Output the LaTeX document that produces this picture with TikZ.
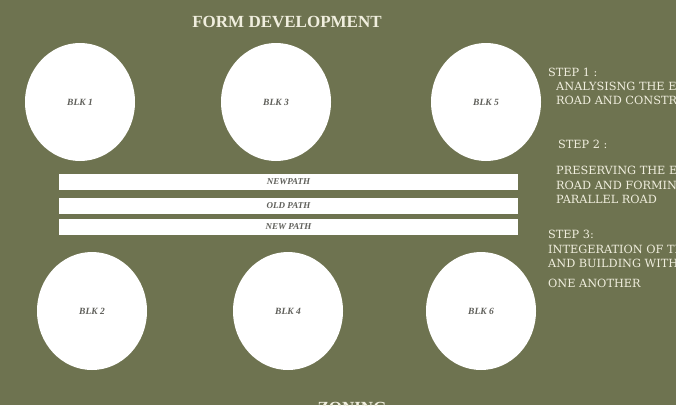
\documentclass[tikz,border=0pt]{standalone}
\usepackage{fontspec}
\setmainfont{Liberation Serif}
\newfontfamily\stepfont{DejaVu Serif}
\usetikzlibrary{positioning,shapes.geometric}
\definecolor{olive}{RGB}{110,115,80}
\definecolor{cream}{RGB}{240,238,222}
\definecolor{labelgrey}{RGB}{95,95,90}
\tikzset{
  blk/.style={ellipse,fill=white,draw=none,inner sep=0pt,
    minimum width=110pt,minimum height=118pt,
    font=\fontsize{9.5}{10}\selectfont\bfseries\itshape,text=labelgrey},
  pathbar/.style={rectangle,fill=white,draw=none,inner sep=0pt,
    minimum width=459pt,minimum height=16pt,
    font=\fontsize{9}{10}\selectfont\bfseries\itshape,text=labelgrey},
  steptext/.style={anchor=west,inner sep=0pt,text=cream,
    font=\stepfont\fontsize{11.3}{13}\selectfont}
}
\begin{document}
\begin{tikzpicture}[x=1pt,y=-1pt]
  \fill[olive] (0,0) rectangle (676,405);
  \useasboundingbox (0,0) rectangle (676,405);
  \clip (0,0) rectangle (676,405);
  % title
  \node[text=cream,font=\fontsize{17}{20}\selectfont\bfseries]
    (title) at (287,22) {FORM DEVELOPMENT};
  % blocks
  \node[blk] (blk1) at (80,102) {BLK 1};
  \node[blk] (blk3) at (276,102) {BLK 3};
  \node[blk] (blk5) at (486,102) {BLK 5};
  \node[blk] (blk2) at (92,311) {BLK 2};
  \node[blk] (blk4) at (288,311) {BLK 4};
  \node[blk] (blk6) at (481,311) {BLK 6};
  % paths
  \node[pathbar] (newpath) at (288.5,182) {NEWPATH};
  \node[pathbar] (oldpath) at (288.5,205.5) {OLD PATH};
  \node[pathbar] (newpath2) at (288.5,227) {NEW PATH};
  % steps
  \node[steptext] (step1) at (548,72) {STEP 1 :};
  \node[steptext] (step1a) at (556,86) {ANALYSISNG THE E};
  \node[steptext] (step1b) at (556,100) {ROAD AND CONSTR};
  \node[steptext] (step2) at (558,144) {STEP 2 :};
  \node[steptext] (step2a) at (556,170) {PRESERVING THE E};
  \node[steptext] (step2b) at (556,185) {ROAD AND FORMIN};
  \node[steptext] (step2c) at (556,199) {PARALLEL ROAD};
  \node[steptext] (step3) at (548,234) {STEP 3:};
  \node[steptext] (step3a) at (548,249) {INTEGERATION OF TH};
  \node[steptext] (step3b) at (548,263) {AND BUILDING WITH};
  \node[steptext] (step3c) at (548,283) {ONE ANOTHER};
  % bottom
  \node[text=cream,font=\fontsize{17}{20}\selectfont\bfseries]
    (zoning) at (352,408) {ZONING};
\end{tikzpicture}
\end{document}
